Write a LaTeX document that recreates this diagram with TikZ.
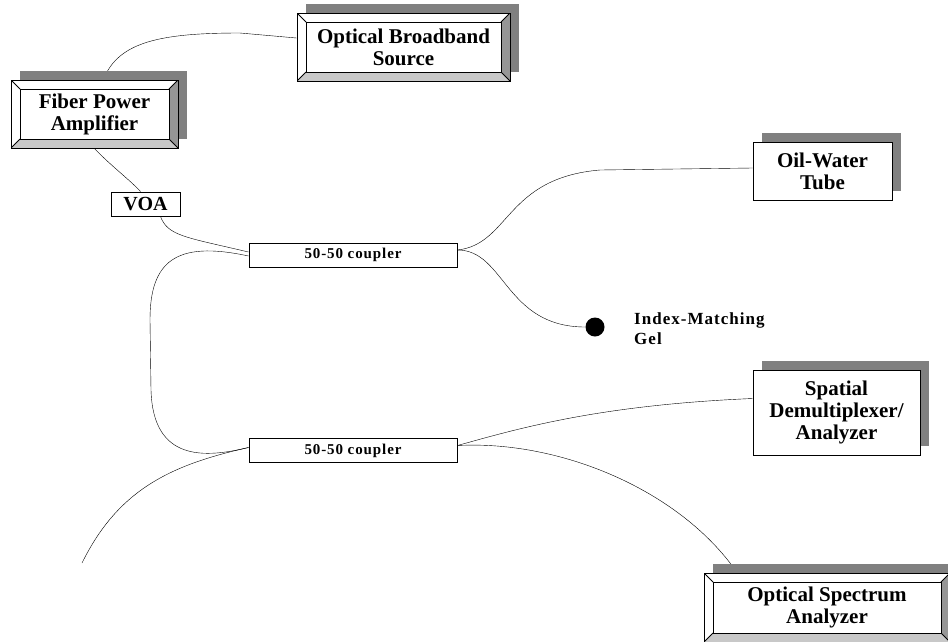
\documentclass[tikz,border=0pt]{standalone}
\usepackage{fontspec}
\setmainfont{Liberation Serif}
\usetikzlibrary{shadows,backgrounds}
\definecolor{shadowgray}{RGB}{128,128,128}
\definecolor{bevellight}{RGB}{200,200,200}
\definecolor{beveldark}{RGB}{150,150,150}

\begin{document}
\begin{tikzpicture}[x=1pt,y=-1pt,
box/.style={draw,line width=1pt,fill=white,inner sep=0pt,align=center,
  font=\fontsize{21}{22}\selectfont\bfseries},
coupler/.style={box,minimum width=208,minimum height=24,
  font=\fontsize{15}{18}\selectfont\bfseries\addfontfeatures{LetterSpace=6}},
shadowed/.style={drop shadow={shadow xshift=9pt,shadow yshift=9pt,
  fill=shadowgray,opacity=1}},
bevel/.style={path picture={
  \coordinate (bsw) at (path picture bounding box.south west);
  \coordinate (bne) at (path picture bounding box.north east);
  \coordinate (bse) at (bsw -| bne);
  \coordinate (bnw) at (bne -| bsw);
  \coordinate (isw) at ([shift={(9pt,9pt)}]bsw);
  \coordinate (ise) at ([shift={(-9pt,9pt)}]bse);
  \coordinate (ine) at ([shift={(-9pt,-9pt)}]bne);
  \coordinate (inw) at ([shift={(9pt,-9pt)}]bnw);
  \fill[bevellight] (bsw) -- (bse) -- (ise) -- (isw) -- cycle;
  \fill[beveldark] (bse) -- (bne) -- (ine) -- (ise) -- cycle;
  \draw[line width=0.8pt] (isw) rectangle (ine);
  \draw (bsw) -- (isw) (bse) -- (ise) (bne) -- (ine) (bnw) -- (inw);
}},
fiber/.style={line width=0.8pt}]
\useasboundingbox (0,0) rectangle (948,641);

\node[box,shadowed,bevel,minimum width=213,minimum height=68] (source) at (403.5,47) {Optical Broadband\\Source};
\node[box,shadowed,bevel,minimum width=167,minimum height=68] (amp) at (94.5,114) {Fiber Power\\Amplifier};
\node[box,minimum width=69,minimum height=24,font=\fontsize{20}{22}\selectfont\bfseries] (voa) at (145.5,204) {VOA};
\node[coupler] (upper) at (353,255) {50-50 coupler};
\node[coupler] (lower) at (353,450.5) {50-50 coupler};
\node[box,shadowed,minimum width=139,minimum height=58] (tube) at (822.5,171) {Oil-Water\\Tube};
\node[box,shadowed,minimum width=167,minimum height=85] (demux) at (836.5,412.5) {Spatial\\Demultiplexer/\\Analyzer};
\node[box,shadowed,bevel,minimum width=246,minimum height=69] (osa) at (827,607.5) {Optical Spectrum\\Analyzer};
\node[circle,fill,minimum size=19,inner sep=0pt] (gel) at (595,327) {};
\node[anchor=north west,align=left,inner sep=0pt,font=\fontsize{17}{20}\selectfont\bfseries\addfontfeatures{LetterSpace=6}] (gellabel) at (634,312) {Index-Matching\\Gel};
\coordinate (fiberend) at (82,563);

\begin{scope}[on background layer,fiber]
\draw ([xshift=9pt]amp.north) .. controls (118,42) and (160,33) .. (240,33) -- ([yshift=9pt]source.west);
\draw (amp.south) .. controls (110,165) and (130,180) .. ([xshift=-5pt]voa.north);
\draw ([xshift=15pt]voa.south) .. controls (168,236) and (185,237) .. ([yshift=3pt]upper.west);
\draw ([yshift=-1pt]upper.west) .. controls (175,240) and (150,262) .. (150,320) -- (151,390)
  .. controls (153,462) and (205,458) .. ([yshift=3pt]lower.west);
\draw ([yshift=3pt]lower.west) .. controls (170,465) and (118,490) .. (fiberend);
\draw ([yshift=5pt]upper.east) .. controls (510,244) and (505,178) .. (600,170) -- ([yshift=3pt]tube.west);
\draw ([yshift=5pt]upper.east) .. controls (505,250) and (505,327) .. (gel);
\draw ([yshift=5pt]lower.east) .. controls (520,428) and (600,405) .. ([yshift=14pt]demux.west);
\draw ([yshift=5pt]lower.east) .. controls (560,440) and (680,490) .. ([xshift=-90pt]osa.north);
\end{scope}
\end{tikzpicture}
\end{document}
